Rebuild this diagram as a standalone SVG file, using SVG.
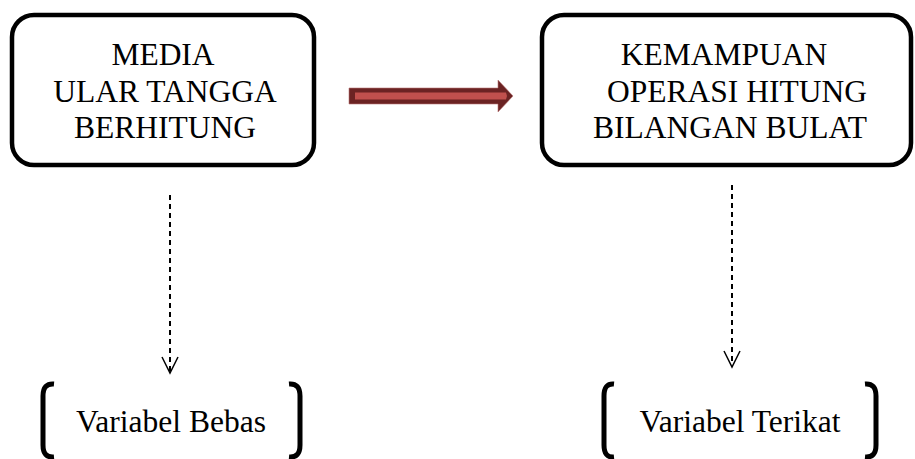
<svg xmlns="http://www.w3.org/2000/svg" width="915" height="459" viewBox="0 0 915 459">
<style>
.box{fill:#fff;stroke:#000;stroke-width:4.5}
.t{font-family:"Liberation Serif","Times New Roman",serif;font-size:31.5px;fill:#000;text-anchor:middle}
.dash{stroke:#000;stroke-width:2;stroke-dasharray:5 4;fill:none}
.head{stroke:#000;stroke-width:1.5;fill:none}
.br{stroke:#000;stroke-width:5;fill:none}
</style>
<rect width="915" height="459" fill="#fff"/>
<g id="node-media">
<rect class="box" x="12" y="15" width="302" height="150" rx="22"/>
<text class="t" x="163" y="65">MEDIA</text>
<text class="t" x="165" y="102">ULAR TANGGA</text>
<text class="t" x="165" y="138">BERHITUNG</text>
</g>
<g id="node-kemampuan">
<rect class="box" x="542" y="15" width="369" height="150" rx="22"/>
<text class="t" x="724" y="65">KEMAMPUAN</text>
<text class="t" x="737" y="102">OPERASI HITUNG</text>
<text class="t" x="730" y="138">BILANGAN BULAT</text>
</g>
<g id="node-bebas">
<path class="br" d="M54 384 Q43 383 43 396 L43 445 Q43 458 54 457"/>
<path class="br" d="M289 384 Q300 383 300 396 L300 445 Q300 458 289 457"/>
<text class="t" x="171" y="432">Variabel Bebas</text>
</g>
<g id="node-terikat">
<path class="br" d="M614 384 Q604 383 604 396 L604 445 Q604 458 614 457"/>
<path class="br" d="M865 384 Q876 383 876 396 L876 445 Q876 458 865 457"/>
<text class="t" x="740" y="432">Variabel Terikat</text>
</g>
<g id="connectors">
<path d="M349 88 L498 88 L498 80 L513 96 L498 112 L498 104 L349 104 Z" fill="#6B2323" stroke="#B77" stroke-width="0.6"/>
<path d="M355 92.5 L506 92.5 L507 96 L506 99.5 L355 99.5 Z" fill="#C0504D"/>
<line class="dash" x1="170" y1="195" x2="170" y2="371"/>
<path class="head" d="M162 357 L170 373 L178 357"/>
<line class="dash" x1="732" y1="185" x2="732" y2="365"/>
<path class="head" d="M724 351 L732 367 L740 351"/>
</g>
</svg>
